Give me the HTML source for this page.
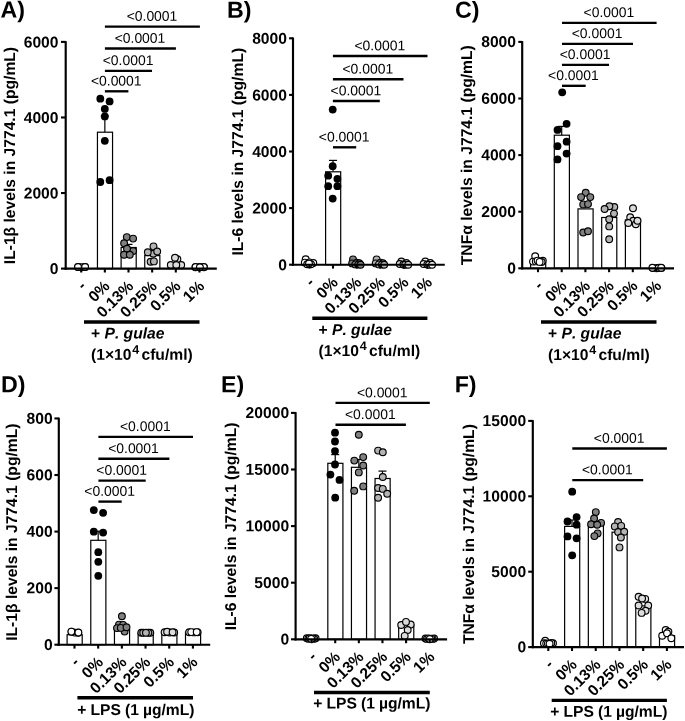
<!DOCTYPE html>
<html>
<head>
<meta charset="utf-8">
<title>Figure</title>
<style>
html,body{margin:0;padding:0;background:#fff;}
body{width:685px;height:721px;overflow:hidden;}
svg{display:block;font-family:"Liberation Sans",sans-serif;fill:#000;text-rendering:geometricPrecision;will-change:transform;font-kerning:none;}
</style>
</head>
<body>
<svg width="685" height="721" viewBox="0 0 685 721">
<rect x="0" y="0" width="685" height="721" fill="#fff"/>
<g>
<line x1="104.85" y1="116" x2="104.85" y2="132.2" stroke="#000" stroke-width="1.2" stroke-linecap="butt"/>
<line x1="100.85" y1="116" x2="108.85" y2="116" stroke="#000" stroke-width="1.2" stroke-linecap="butt"/>
<rect x="97.45" y="132.2" width="15.1" height="136.4" fill="#fff" stroke="#000" stroke-width="1.2"/>
<line x1="128.5" y1="244.4" x2="128.5" y2="247.5" stroke="#000" stroke-width="1.2" stroke-linecap="butt"/>
<line x1="124.5" y1="244.4" x2="132.5" y2="244.4" stroke="#000" stroke-width="1.2" stroke-linecap="butt"/>
<rect x="121.1" y="247.5" width="15.1" height="21.1" fill="#fff" stroke="#000" stroke-width="1.2"/>
<rect x="144.75" y="255.6" width="15.1" height="13" fill="#fff" stroke="#000" stroke-width="1.2"/>
<rect x="168.4" y="262.8" width="15.1" height="5.8" fill="#fff" stroke="#000" stroke-width="1.2"/>
<circle cx="78.1" cy="266.9" r="3.38" fill="#fff" stroke="#000" stroke-width="1.15"/>
<circle cx="85" cy="266.9" r="3.38" fill="#fff" stroke="#000" stroke-width="1.15"/>
<circle cx="78.3" cy="267.1" r="3.38" fill="#fff" stroke="#000" stroke-width="1.15"/>
<circle cx="84.8" cy="267.1" r="3.38" fill="#fff" stroke="#000" stroke-width="1.15"/>
<circle cx="81.6" cy="267.2" r="3.38" fill="#fff" stroke="#000" stroke-width="1.15"/>
<circle cx="78" cy="267" r="3.38" fill="#fff" stroke="#000" stroke-width="1.15"/>
<circle cx="85.1" cy="267" r="3.38" fill="#fff" stroke="#000" stroke-width="1.15"/>
<circle cx="100.3" cy="98.7" r="3.9" fill="#000"/>
<circle cx="109.6" cy="101.4" r="3.9" fill="#000"/>
<circle cx="104.8" cy="108.9" r="3.9" fill="#000"/>
<circle cx="104.8" cy="116.4" r="3.9" fill="#000"/>
<circle cx="104.8" cy="140.8" r="3.9" fill="#000"/>
<circle cx="100.3" cy="182" r="3.9" fill="#000"/>
<circle cx="109.6" cy="180.2" r="3.9" fill="#000"/>
<circle cx="126.8" cy="237.1" r="3.38" fill="#808080" stroke="#000" stroke-width="1.15"/>
<circle cx="133.1" cy="238.6" r="3.38" fill="#808080" stroke="#000" stroke-width="1.15"/>
<circle cx="124.1" cy="243.3" r="3.38" fill="#808080" stroke="#000" stroke-width="1.15"/>
<circle cx="133.1" cy="251" r="3.38" fill="#808080" stroke="#000" stroke-width="1.15"/>
<circle cx="127" cy="248.8" r="3.38" fill="#808080" stroke="#000" stroke-width="1.15"/>
<circle cx="124.1" cy="254.8" r="3.38" fill="#808080" stroke="#000" stroke-width="1.15"/>
<circle cx="129.8" cy="254.8" r="3.38" fill="#808080" stroke="#000" stroke-width="1.15"/>
<circle cx="153.3" cy="253.7" r="3.38" fill="#b3b3b3" stroke="#000" stroke-width="1.15"/>
<circle cx="153.5" cy="246.4" r="3.38" fill="#b3b3b3" stroke="#000" stroke-width="1.15"/>
<circle cx="147.8" cy="252.3" r="3.38" fill="#b3b3b3" stroke="#000" stroke-width="1.15"/>
<circle cx="157.2" cy="251.5" r="3.38" fill="#b3b3b3" stroke="#000" stroke-width="1.15"/>
<circle cx="150.6" cy="261.7" r="3.38" fill="#b3b3b3" stroke="#000" stroke-width="1.15"/>
<circle cx="153.9" cy="261.4" r="3.38" fill="#b3b3b3" stroke="#000" stroke-width="1.15"/>
<circle cx="177.4" cy="259.2" r="3.38" fill="#dcdcdc" stroke="#000" stroke-width="1.15"/>
<circle cx="175" cy="257.8" r="3.38" fill="#dcdcdc" stroke="#000" stroke-width="1.15"/>
<circle cx="170.8" cy="265" r="3.38" fill="#dcdcdc" stroke="#000" stroke-width="1.15"/>
<circle cx="181.2" cy="265" r="3.38" fill="#dcdcdc" stroke="#000" stroke-width="1.15"/>
<circle cx="176.3" cy="265" r="3.38" fill="#dcdcdc" stroke="#000" stroke-width="1.15"/>
<circle cx="195.4" cy="267.2" r="3.38" fill="#fff" stroke="#000" stroke-width="1.15"/>
<circle cx="204" cy="267.2" r="3.38" fill="#fff" stroke="#000" stroke-width="1.15"/>
<circle cx="199.7" cy="267" r="3.38" fill="#fff" stroke="#000" stroke-width="1.15"/>
<circle cx="195.6" cy="267" r="3.38" fill="#fff" stroke="#000" stroke-width="1.15"/>
<circle cx="203.8" cy="267" r="3.38" fill="#fff" stroke="#000" stroke-width="1.15"/>
<circle cx="199.9" cy="267.3" r="3.38" fill="#fff" stroke="#000" stroke-width="1.15"/>
<line x1="65.7" y1="41.12" x2="65.7" y2="269.68" stroke="#000" stroke-width="2.15" stroke-linecap="butt"/>
<line x1="64.62" y1="268.6" x2="216.8" y2="268.6" stroke="#000" stroke-width="2.15" stroke-linecap="butt"/>
<line x1="61" y1="268.6" x2="65.7" y2="268.6" stroke="#000" stroke-width="2.1" stroke-linecap="butt"/>
<text x="58.5" y="274.14" text-anchor="end" style="font-size:15.65px;font-weight:bold;" transform="rotate(0.03 58.5 274.14)">0</text>
<line x1="61" y1="193.03" x2="65.7" y2="193.03" stroke="#000" stroke-width="2.1" stroke-linecap="butt"/>
<text x="58.5" y="198.58" text-anchor="end" style="font-size:15.65px;font-weight:bold;" transform="rotate(0.03 58.5 198.58)">2000</text>
<line x1="61" y1="117.47" x2="65.7" y2="117.47" stroke="#000" stroke-width="2.1" stroke-linecap="butt"/>
<text x="58.5" y="123.01" text-anchor="end" style="font-size:15.65px;font-weight:bold;" transform="rotate(0.03 58.5 123.01)">4000</text>
<line x1="61" y1="41.9" x2="65.7" y2="41.9" stroke="#000" stroke-width="2.1" stroke-linecap="butt"/>
<text x="58.5" y="47.44" text-anchor="end" style="font-size:15.65px;font-weight:bold;" transform="rotate(0.03 58.5 47.44)">6000</text>
<line x1="81.2" y1="268.6" x2="81.2" y2="272.5" stroke="#000" stroke-width="2.1" stroke-linecap="butt"/>
<line x1="104.85" y1="268.6" x2="104.85" y2="272.5" stroke="#000" stroke-width="2.1" stroke-linecap="butt"/>
<line x1="128.5" y1="268.6" x2="128.5" y2="272.5" stroke="#000" stroke-width="2.1" stroke-linecap="butt"/>
<line x1="152.15" y1="268.6" x2="152.15" y2="272.5" stroke="#000" stroke-width="2.1" stroke-linecap="butt"/>
<line x1="175.8" y1="268.6" x2="175.8" y2="272.5" stroke="#000" stroke-width="2.1" stroke-linecap="butt"/>
<line x1="199.45" y1="268.6" x2="199.45" y2="272.5" stroke="#000" stroke-width="2.1" stroke-linecap="butt"/>
<text x="87" y="287.1" text-anchor="end" style="font-size:15.65px;font-weight:bold;" transform="rotate(-45 87 287.1)">-</text>
<text x="110.65" y="287.1" text-anchor="end" style="font-size:15.65px;font-weight:bold;" transform="rotate(-45 110.65 287.1)">0%</text>
<text x="134.3" y="287.1" text-anchor="end" style="font-size:15.65px;font-weight:bold;" transform="rotate(-45 134.3 287.1)">0.13%</text>
<text x="157.95" y="287.1" text-anchor="end" style="font-size:15.65px;font-weight:bold;" transform="rotate(-45 157.95 287.1)">0.25%</text>
<text x="181.6" y="287.1" text-anchor="end" style="font-size:15.65px;font-weight:bold;" transform="rotate(-45 181.6 287.1)">0.5%</text>
<text x="205.25" y="287.1" text-anchor="end" style="font-size:15.65px;font-weight:bold;" transform="rotate(-45 205.25 287.1)">1%</text>
<line x1="104.9" y1="91.3" x2="128.4" y2="91.3" stroke="#000" stroke-width="2.35" stroke-linecap="butt"/>
<text x="116.25" y="85.55" text-anchor="middle" style="font-size:13.93px;" transform="rotate(0.03 116.25 85.55)">&lt;0.0001</text>
<line x1="104.9" y1="70.8" x2="152" y2="70.8" stroke="#000" stroke-width="2.35" stroke-linecap="butt"/>
<text x="128.05" y="65.05" text-anchor="middle" style="font-size:13.93px;" transform="rotate(0.03 128.05 65.05)">&lt;0.0001</text>
<line x1="104.9" y1="48.45" x2="175.9" y2="48.45" stroke="#000" stroke-width="2.35" stroke-linecap="butt"/>
<text x="140" y="42.7" text-anchor="middle" style="font-size:13.93px;" transform="rotate(0.03 140 42.7)">&lt;0.0001</text>
<line x1="104.9" y1="26.55" x2="199.9" y2="26.55" stroke="#000" stroke-width="2.35" stroke-linecap="butt"/>
<text x="152" y="20.8" text-anchor="middle" style="font-size:13.93px;" transform="rotate(0.03 152 20.8)">&lt;0.0001</text>
<line x1="84" y1="322" x2="199.5" y2="322" stroke="#000" stroke-width="3.4" stroke-linecap="butt"/>
<text x="91" y="338.4" transform="rotate(0.03 91 338.4)" style="font-size:15.65px;font-weight:bold">+ <tspan style="font-style:italic">P. gulae</tspan></text>
<text x="91" y="359.7" transform="rotate(0.03 91 359.7)" style="font-size:15.65px;font-weight:bold">(1×10<tspan dy="-6" dx="0.7" style="font-size:12.5px">4</tspan><tspan dy="6" dx="-2.0"> cfu/ml)</tspan></text>
<text x="14.9" y="264.2" text-anchor="start" style="font-size:15.65px;font-weight:bold;" transform="rotate(-90 14.9 264.2)">IL-1β levels in J774.1 (pg/mL)</text>
<text x="0.5" y="17.6" text-anchor="start" style="font-size:23.2px;font-weight:bold;" transform="rotate(0.03 0.5 17.6)">A)</text>
</g>
<g>
<line x1="333" y1="160.4" x2="333" y2="171.8" stroke="#000" stroke-width="1.2" stroke-linecap="butt"/>
<line x1="329" y1="160.4" x2="337" y2="160.4" stroke="#000" stroke-width="1.2" stroke-linecap="butt"/>
<rect x="325.6" y="171.8" width="15.1" height="92.9" fill="#fff" stroke="#000" stroke-width="1.2"/>
<circle cx="305.7" cy="259.3" r="3.38" fill="#fff" stroke="#000" stroke-width="1.15"/>
<circle cx="304.8" cy="262.6" r="3.38" fill="#fff" stroke="#000" stroke-width="1.15"/>
<circle cx="309.5" cy="262.4" r="3.38" fill="#fff" stroke="#000" stroke-width="1.15"/>
<circle cx="313.3" cy="263" r="3.38" fill="#fff" stroke="#000" stroke-width="1.15"/>
<circle cx="311" cy="264.2" r="3.38" fill="#fff" stroke="#000" stroke-width="1.15"/>
<circle cx="307.2" cy="264.3" r="3.38" fill="#fff" stroke="#000" stroke-width="1.15"/>
<circle cx="309" cy="263.6" r="3.38" fill="#fff" stroke="#000" stroke-width="1.15"/>
<circle cx="332.7" cy="109.6" r="3.9" fill="#000"/>
<circle cx="332.7" cy="166.2" r="3.9" fill="#000"/>
<circle cx="328.2" cy="175.7" r="3.9" fill="#000"/>
<circle cx="337.4" cy="178.8" r="3.9" fill="#000"/>
<circle cx="328.2" cy="186.2" r="3.9" fill="#000"/>
<circle cx="337.4" cy="186.2" r="3.9" fill="#000"/>
<circle cx="332.7" cy="198.6" r="3.9" fill="#000"/>
<circle cx="353" cy="259.4" r="3.38" fill="#808080" stroke="#000" stroke-width="1.15"/>
<circle cx="352.1" cy="263.4" r="3.38" fill="#808080" stroke="#000" stroke-width="1.15"/>
<circle cx="356.9" cy="262.6" r="3.38" fill="#808080" stroke="#000" stroke-width="1.15"/>
<circle cx="359.3" cy="263.2" r="3.38" fill="#808080" stroke="#000" stroke-width="1.15"/>
<circle cx="355.3" cy="264.4" r="3.38" fill="#808080" stroke="#000" stroke-width="1.15"/>
<circle cx="358.3" cy="264.6" r="3.38" fill="#808080" stroke="#000" stroke-width="1.15"/>
<circle cx="360.6" cy="264.7" r="3.38" fill="#808080" stroke="#000" stroke-width="1.15"/>
<circle cx="376.6" cy="259.4" r="3.38" fill="#b3b3b3" stroke="#000" stroke-width="1.15"/>
<circle cx="375.7" cy="263.4" r="3.38" fill="#b3b3b3" stroke="#000" stroke-width="1.15"/>
<circle cx="380.5" cy="262.6" r="3.38" fill="#b3b3b3" stroke="#000" stroke-width="1.15"/>
<circle cx="382.9" cy="263.2" r="3.38" fill="#b3b3b3" stroke="#000" stroke-width="1.15"/>
<circle cx="378.9" cy="264.4" r="3.38" fill="#b3b3b3" stroke="#000" stroke-width="1.15"/>
<circle cx="381.9" cy="264.6" r="3.38" fill="#b3b3b3" stroke="#000" stroke-width="1.15"/>
<circle cx="384.2" cy="264.7" r="3.38" fill="#b3b3b3" stroke="#000" stroke-width="1.15"/>
<circle cx="401.4" cy="261.5" r="3.38" fill="#dcdcdc" stroke="#000" stroke-width="1.15"/>
<circle cx="399.7" cy="264" r="3.38" fill="#dcdcdc" stroke="#000" stroke-width="1.15"/>
<circle cx="406.4" cy="263" r="3.38" fill="#dcdcdc" stroke="#000" stroke-width="1.15"/>
<circle cx="403.4" cy="264.5" r="3.38" fill="#dcdcdc" stroke="#000" stroke-width="1.15"/>
<circle cx="405.1" cy="264.8" r="3.38" fill="#dcdcdc" stroke="#000" stroke-width="1.15"/>
<circle cx="408.2" cy="264.7" r="3.38" fill="#dcdcdc" stroke="#000" stroke-width="1.15"/>
<circle cx="425.3" cy="261.5" r="3.38" fill="#fff" stroke="#000" stroke-width="1.15"/>
<circle cx="423.6" cy="264" r="3.38" fill="#fff" stroke="#000" stroke-width="1.15"/>
<circle cx="430.3" cy="263" r="3.38" fill="#fff" stroke="#000" stroke-width="1.15"/>
<circle cx="427.3" cy="264.5" r="3.38" fill="#fff" stroke="#000" stroke-width="1.15"/>
<circle cx="429" cy="264.8" r="3.38" fill="#fff" stroke="#000" stroke-width="1.15"/>
<circle cx="432.1" cy="264.7" r="3.38" fill="#fff" stroke="#000" stroke-width="1.15"/>
<line x1="293" y1="37.52" x2="293" y2="265.77" stroke="#000" stroke-width="2.15" stroke-linecap="butt"/>
<line x1="291.93" y1="264.7" x2="444.8" y2="264.7" stroke="#000" stroke-width="2.15" stroke-linecap="butt"/>
<line x1="289.1" y1="264.7" x2="293" y2="264.7" stroke="#000" stroke-width="2.1" stroke-linecap="butt"/>
<text x="286.95" y="270.24" text-anchor="end" style="font-size:15.65px;font-weight:bold;" transform="rotate(0.03 286.95 270.24)">0</text>
<line x1="289.1" y1="208.1" x2="293" y2="208.1" stroke="#000" stroke-width="2.1" stroke-linecap="butt"/>
<text x="286.95" y="213.64" text-anchor="end" style="font-size:15.65px;font-weight:bold;" transform="rotate(0.03 286.95 213.64)">2000</text>
<line x1="289.1" y1="151.5" x2="293" y2="151.5" stroke="#000" stroke-width="2.1" stroke-linecap="butt"/>
<text x="286.95" y="157.04" text-anchor="end" style="font-size:15.65px;font-weight:bold;" transform="rotate(0.03 286.95 157.04)">4000</text>
<line x1="289.1" y1="94.9" x2="293" y2="94.9" stroke="#000" stroke-width="2.1" stroke-linecap="butt"/>
<text x="286.95" y="100.44" text-anchor="end" style="font-size:15.65px;font-weight:bold;" transform="rotate(0.03 286.95 100.44)">6000</text>
<line x1="289.1" y1="38.3" x2="293" y2="38.3" stroke="#000" stroke-width="2.1" stroke-linecap="butt"/>
<text x="286.95" y="43.84" text-anchor="end" style="font-size:15.65px;font-weight:bold;" transform="rotate(0.03 286.95 43.84)">8000</text>
<line x1="309.4" y1="264.7" x2="309.4" y2="268.6" stroke="#000" stroke-width="2.1" stroke-linecap="butt"/>
<line x1="333" y1="264.7" x2="333" y2="268.6" stroke="#000" stroke-width="2.1" stroke-linecap="butt"/>
<line x1="356.6" y1="264.7" x2="356.6" y2="268.6" stroke="#000" stroke-width="2.1" stroke-linecap="butt"/>
<line x1="380.2" y1="264.7" x2="380.2" y2="268.6" stroke="#000" stroke-width="2.1" stroke-linecap="butt"/>
<line x1="403.8" y1="264.7" x2="403.8" y2="268.6" stroke="#000" stroke-width="2.1" stroke-linecap="butt"/>
<line x1="427.4" y1="264.7" x2="427.4" y2="268.6" stroke="#000" stroke-width="2.1" stroke-linecap="butt"/>
<text x="315.2" y="283.5" text-anchor="end" style="font-size:15.65px;font-weight:bold;" transform="rotate(-45 315.2 283.5)">-</text>
<text x="338.8" y="283.5" text-anchor="end" style="font-size:15.65px;font-weight:bold;" transform="rotate(-45 338.8 283.5)">0%</text>
<text x="362.4" y="283.5" text-anchor="end" style="font-size:15.65px;font-weight:bold;" transform="rotate(-45 362.4 283.5)">0.13%</text>
<text x="386" y="283.5" text-anchor="end" style="font-size:15.65px;font-weight:bold;" transform="rotate(-45 386 283.5)">0.25%</text>
<text x="409.6" y="283.5" text-anchor="end" style="font-size:15.65px;font-weight:bold;" transform="rotate(-45 409.6 283.5)">0.5%</text>
<text x="433.2" y="283.5" text-anchor="end" style="font-size:15.65px;font-weight:bold;" transform="rotate(-45 433.2 283.5)">1%</text>
<line x1="333" y1="147.3" x2="356.2" y2="147.3" stroke="#000" stroke-width="2.35" stroke-linecap="butt"/>
<text x="344.2" y="141.55" text-anchor="middle" style="font-size:13.93px;" transform="rotate(0.03 344.2 141.55)">&lt;0.0001</text>
<line x1="332.9" y1="101" x2="379.8" y2="101" stroke="#000" stroke-width="2.35" stroke-linecap="butt"/>
<text x="355.95" y="95.25" text-anchor="middle" style="font-size:13.93px;" transform="rotate(0.03 355.95 95.25)">&lt;0.0001</text>
<line x1="332.9" y1="79.2" x2="403.5" y2="79.2" stroke="#000" stroke-width="2.35" stroke-linecap="butt"/>
<text x="367.8" y="73.45" text-anchor="middle" style="font-size:13.93px;" transform="rotate(0.03 367.8 73.45)">&lt;0.0001</text>
<line x1="332.9" y1="56" x2="427.5" y2="56" stroke="#000" stroke-width="2.35" stroke-linecap="butt"/>
<text x="379.8" y="50.25" text-anchor="middle" style="font-size:13.93px;" transform="rotate(0.03 379.8 50.25)">&lt;0.0001</text>
<line x1="312.3" y1="318.3" x2="427.4" y2="318.3" stroke="#000" stroke-width="3.4" stroke-linecap="butt"/>
<text x="318.5" y="334.9" transform="rotate(0.03 318.5 334.9)" style="font-size:15.65px;font-weight:bold">+ <tspan style="font-style:italic">P. gulae</tspan></text>
<text x="318.5" y="355.9" transform="rotate(0.03 318.5 355.9)" style="font-size:15.65px;font-weight:bold">(1×10<tspan dy="-6" dx="0.7" style="font-size:12.5px">4</tspan><tspan dy="6" dx="-2.0"> cfu/ml)</tspan></text>
<text x="242.8" y="255.6" text-anchor="start" style="font-size:15.65px;font-weight:bold;" transform="rotate(-90 242.8 255.6)">IL-6 levels in J774.1 (pg/mL)</text>
<text x="227.1" y="17.7" text-anchor="start" style="font-size:23.2px;font-weight:bold;" transform="rotate(0.03 227.1 17.7)">B)</text>
</g>
<g>
<rect x="530.6" y="263.4" width="15.1" height="4.9" fill="#fff" stroke="#000" stroke-width="1.2"/>
<line x1="561.7" y1="126.4" x2="561.7" y2="135.2" stroke="#000" stroke-width="1.2" stroke-linecap="butt"/>
<line x1="557.7" y1="126.4" x2="565.7" y2="126.4" stroke="#000" stroke-width="1.2" stroke-linecap="butt"/>
<rect x="554.3" y="135.2" width="15.1" height="133.1" fill="#fff" stroke="#000" stroke-width="1.2"/>
<rect x="578" y="208.9" width="15.1" height="59.4" fill="#fff" stroke="#000" stroke-width="1.2"/>
<rect x="601.7" y="217.5" width="15.1" height="50.8" fill="#fff" stroke="#000" stroke-width="1.2"/>
<rect x="625.4" y="219.9" width="15.1" height="48.4" fill="#fff" stroke="#000" stroke-width="1.2"/>
<circle cx="542.8" cy="260.8" r="3.38" fill="#fff" stroke="#000" stroke-width="1.15"/>
<circle cx="535.2" cy="256.2" r="3.38" fill="#fff" stroke="#000" stroke-width="1.15"/>
<circle cx="533" cy="261.6" r="3.38" fill="#fff" stroke="#000" stroke-width="1.15"/>
<circle cx="535.8" cy="261.4" r="3.38" fill="#fff" stroke="#000" stroke-width="1.15"/>
<circle cx="537.6" cy="260.6" r="3.38" fill="#fff" stroke="#000" stroke-width="1.15"/>
<circle cx="541.6" cy="262" r="3.38" fill="#fff" stroke="#000" stroke-width="1.15"/>
<circle cx="539.6" cy="261.9" r="3.38" fill="#fff" stroke="#000" stroke-width="1.15"/>
<circle cx="562.2" cy="92.3" r="3.9" fill="#000"/>
<circle cx="566.6" cy="123.8" r="3.9" fill="#000"/>
<circle cx="557.5" cy="129.9" r="3.9" fill="#000"/>
<circle cx="566.6" cy="141.7" r="3.9" fill="#000"/>
<circle cx="557.5" cy="146.2" r="3.9" fill="#000"/>
<circle cx="566.6" cy="153.6" r="3.9" fill="#000"/>
<circle cx="557.5" cy="159.4" r="3.9" fill="#000"/>
<circle cx="585.7" cy="192.7" r="3.38" fill="#808080" stroke="#000" stroke-width="1.15"/>
<circle cx="581.1" cy="197.1" r="3.38" fill="#808080" stroke="#000" stroke-width="1.15"/>
<circle cx="590.3" cy="197.1" r="3.38" fill="#808080" stroke="#000" stroke-width="1.15"/>
<circle cx="583.2" cy="204.4" r="3.38" fill="#808080" stroke="#000" stroke-width="1.15"/>
<circle cx="588" cy="204.1" r="3.38" fill="#808080" stroke="#000" stroke-width="1.15"/>
<circle cx="583.2" cy="232.5" r="3.38" fill="#808080" stroke="#000" stroke-width="1.15"/>
<circle cx="588" cy="231.2" r="3.38" fill="#808080" stroke="#000" stroke-width="1.15"/>
<circle cx="614.3" cy="207" r="3.38" fill="#b3b3b3" stroke="#000" stroke-width="1.15"/>
<circle cx="609.4" cy="206.3" r="3.38" fill="#b3b3b3" stroke="#000" stroke-width="1.15"/>
<circle cx="604.6" cy="209" r="3.38" fill="#b3b3b3" stroke="#000" stroke-width="1.15"/>
<circle cx="614" cy="213.6" r="3.38" fill="#b3b3b3" stroke="#000" stroke-width="1.15"/>
<circle cx="609.2" cy="219.2" r="3.38" fill="#b3b3b3" stroke="#000" stroke-width="1.15"/>
<circle cx="609.2" cy="226.4" r="3.38" fill="#b3b3b3" stroke="#000" stroke-width="1.15"/>
<circle cx="609.2" cy="239.2" r="3.38" fill="#b3b3b3" stroke="#000" stroke-width="1.15"/>
<circle cx="633" cy="208.3" r="3.38" fill="#dcdcdc" stroke="#000" stroke-width="1.15"/>
<circle cx="630.2" cy="217.2" r="3.38" fill="#dcdcdc" stroke="#000" stroke-width="1.15"/>
<circle cx="633.2" cy="220.8" r="3.38" fill="#dcdcdc" stroke="#000" stroke-width="1.15"/>
<circle cx="635.8" cy="224.3" r="3.38" fill="#dcdcdc" stroke="#000" stroke-width="1.15"/>
<circle cx="637.5" cy="220.8" r="3.38" fill="#dcdcdc" stroke="#000" stroke-width="1.15"/>
<circle cx="628.3" cy="223" r="3.38" fill="#dcdcdc" stroke="#000" stroke-width="1.15"/>
<circle cx="656.5" cy="267.9" r="3.38" fill="#fff" stroke="#000" stroke-width="1.15"/>
<circle cx="652.9" cy="268.1" r="3.38" fill="#fff" stroke="#000" stroke-width="1.15"/>
<circle cx="659.2" cy="267.7" r="3.38" fill="#fff" stroke="#000" stroke-width="1.15"/>
<circle cx="661.5" cy="268.1" r="3.38" fill="#fff" stroke="#000" stroke-width="1.15"/>
<circle cx="652.4" cy="267.7" r="3.38" fill="#fff" stroke="#000" stroke-width="1.15"/>
<circle cx="658.6" cy="268.1" r="3.38" fill="#fff" stroke="#000" stroke-width="1.15"/>
<circle cx="661.2" cy="267.8" r="3.38" fill="#fff" stroke="#000" stroke-width="1.15"/>
<line x1="522.2" y1="41.12" x2="522.2" y2="269.38" stroke="#000" stroke-width="2.15" stroke-linecap="butt"/>
<line x1="521.12" y1="268.3" x2="674" y2="268.3" stroke="#000" stroke-width="2.15" stroke-linecap="butt"/>
<line x1="518.3" y1="268.3" x2="522.2" y2="268.3" stroke="#000" stroke-width="2.1" stroke-linecap="butt"/>
<text x="516" y="273.54" text-anchor="end" style="font-size:15.65px;font-weight:bold;" transform="rotate(0.03 516 273.54)">0</text>
<line x1="518.3" y1="211.7" x2="522.2" y2="211.7" stroke="#000" stroke-width="2.1" stroke-linecap="butt"/>
<text x="516" y="216.94" text-anchor="end" style="font-size:15.65px;font-weight:bold;" transform="rotate(0.03 516 216.94)">2000</text>
<line x1="518.3" y1="155.1" x2="522.2" y2="155.1" stroke="#000" stroke-width="2.1" stroke-linecap="butt"/>
<text x="516" y="160.34" text-anchor="end" style="font-size:15.65px;font-weight:bold;" transform="rotate(0.03 516 160.34)">4000</text>
<line x1="518.3" y1="98.5" x2="522.2" y2="98.5" stroke="#000" stroke-width="2.1" stroke-linecap="butt"/>
<text x="516" y="103.74" text-anchor="end" style="font-size:15.65px;font-weight:bold;" transform="rotate(0.03 516 103.74)">6000</text>
<line x1="518.3" y1="41.9" x2="522.2" y2="41.9" stroke="#000" stroke-width="2.1" stroke-linecap="butt"/>
<text x="516" y="47.14" text-anchor="end" style="font-size:15.65px;font-weight:bold;" transform="rotate(0.03 516 47.14)">8000</text>
<line x1="538" y1="268.3" x2="538" y2="272.2" stroke="#000" stroke-width="2.1" stroke-linecap="butt"/>
<line x1="561.7" y1="268.3" x2="561.7" y2="272.2" stroke="#000" stroke-width="2.1" stroke-linecap="butt"/>
<line x1="585.4" y1="268.3" x2="585.4" y2="272.2" stroke="#000" stroke-width="2.1" stroke-linecap="butt"/>
<line x1="609.1" y1="268.3" x2="609.1" y2="272.2" stroke="#000" stroke-width="2.1" stroke-linecap="butt"/>
<line x1="632.8" y1="268.3" x2="632.8" y2="272.2" stroke="#000" stroke-width="2.1" stroke-linecap="butt"/>
<line x1="656.5" y1="268.3" x2="656.5" y2="272.2" stroke="#000" stroke-width="2.1" stroke-linecap="butt"/>
<text x="543.8" y="286.8" text-anchor="end" style="font-size:15.65px;font-weight:bold;" transform="rotate(-45 543.8 286.8)">-</text>
<text x="567.5" y="286.8" text-anchor="end" style="font-size:15.65px;font-weight:bold;" transform="rotate(-45 567.5 286.8)">0%</text>
<text x="591.2" y="286.8" text-anchor="end" style="font-size:15.65px;font-weight:bold;" transform="rotate(-45 591.2 286.8)">0.13%</text>
<text x="614.9" y="286.8" text-anchor="end" style="font-size:15.65px;font-weight:bold;" transform="rotate(-45 614.9 286.8)">0.25%</text>
<text x="638.6" y="286.8" text-anchor="end" style="font-size:15.65px;font-weight:bold;" transform="rotate(-45 638.6 286.8)">0.5%</text>
<text x="662.3" y="286.8" text-anchor="end" style="font-size:15.65px;font-weight:bold;" transform="rotate(-45 662.3 286.8)">1%</text>
<line x1="562" y1="85.8" x2="585.7" y2="85.8" stroke="#000" stroke-width="2.35" stroke-linecap="butt"/>
<text x="573.45" y="80.05" text-anchor="middle" style="font-size:13.93px;" transform="rotate(0.03 573.45 80.05)">&lt;0.0001</text>
<line x1="562" y1="64.8" x2="609" y2="64.8" stroke="#000" stroke-width="2.35" stroke-linecap="butt"/>
<text x="585.1" y="59.05" text-anchor="middle" style="font-size:13.93px;" transform="rotate(0.03 585.1 59.05)">&lt;0.0001</text>
<line x1="562" y1="43.8" x2="633" y2="43.8" stroke="#000" stroke-width="2.35" stroke-linecap="butt"/>
<text x="597.1" y="38.05" text-anchor="middle" style="font-size:13.93px;" transform="rotate(0.03 597.1 38.05)">&lt;0.0001</text>
<line x1="562" y1="22.8" x2="656.6" y2="22.8" stroke="#000" stroke-width="2.35" stroke-linecap="butt"/>
<text x="608.9" y="17.05" text-anchor="middle" style="font-size:13.93px;" transform="rotate(0.03 608.9 17.05)">&lt;0.0001</text>
<line x1="541" y1="322" x2="656.5" y2="322" stroke="#000" stroke-width="3.4" stroke-linecap="butt"/>
<text x="548" y="338.4" transform="rotate(0.03 548 338.4)" style="font-size:15.65px;font-weight:bold">+ <tspan style="font-style:italic">P. gulae</tspan></text>
<text x="548" y="359.9" transform="rotate(0.03 548 359.9)" style="font-size:15.65px;font-weight:bold">(1×10<tspan dy="-6" dx="0.7" style="font-size:12.5px">4</tspan><tspan dy="6" dx="-2.0"> cfu/ml)</tspan></text>
<text x="472.1" y="265.2" text-anchor="start" style="font-size:15.65px;font-weight:bold;" transform="rotate(-90 472.1 265.2)">TNFα levels in J774.1 (pg/mL)</text>
<text x="455.1" y="17.8" text-anchor="start" style="font-size:23.2px;font-weight:bold;" transform="rotate(0.03 455.1 17.8)">C)</text>
</g>
<g>
<rect x="67.1" y="634.7" width="15.1" height="10" fill="#fff" stroke="#000" stroke-width="1.2"/>
<line x1="98.18" y1="531.2" x2="98.18" y2="540.3" stroke="#000" stroke-width="1.2" stroke-linecap="butt"/>
<line x1="94.18" y1="531.2" x2="102.18" y2="531.2" stroke="#000" stroke-width="1.2" stroke-linecap="butt"/>
<rect x="90.78" y="540.3" width="15.1" height="104.4" fill="#fff" stroke="#000" stroke-width="1.2"/>
<rect x="114.46" y="629.4" width="15.1" height="15.3" fill="#fff" stroke="#000" stroke-width="1.2"/>
<rect x="138.14" y="633" width="15.1" height="11.7" fill="#fff" stroke="#000" stroke-width="1.2"/>
<rect x="161.82" y="632" width="15.1" height="12.7" fill="#fff" stroke="#000" stroke-width="1.2"/>
<rect x="185.5" y="632" width="15.1" height="12.7" fill="#fff" stroke="#000" stroke-width="1.2"/>
<circle cx="75" cy="632.6" r="3.38" fill="#fff" stroke="#000" stroke-width="1.15"/>
<circle cx="71.6" cy="631.8" r="3.38" fill="#fff" stroke="#000" stroke-width="1.15"/>
<circle cx="78.2" cy="632.7" r="3.38" fill="#fff" stroke="#000" stroke-width="1.15"/>
<circle cx="71.4" cy="631.6" r="3.38" fill="#fff" stroke="#000" stroke-width="1.15"/>
<circle cx="78.4" cy="632.5" r="3.38" fill="#fff" stroke="#000" stroke-width="1.15"/>
<circle cx="93.8" cy="510.1" r="3.9" fill="#000"/>
<circle cx="103.1" cy="512.8" r="3.9" fill="#000"/>
<circle cx="93.8" cy="531.7" r="3.9" fill="#000"/>
<circle cx="103.1" cy="532.6" r="3.9" fill="#000"/>
<circle cx="98.3" cy="552.2" r="3.9" fill="#000"/>
<circle cx="98.3" cy="561.8" r="3.9" fill="#000"/>
<circle cx="98.3" cy="575.8" r="3.9" fill="#000"/>
<circle cx="121.9" cy="616.2" r="3.38" fill="#808080" stroke="#000" stroke-width="1.15"/>
<circle cx="119" cy="624.6" r="3.38" fill="#808080" stroke="#000" stroke-width="1.15"/>
<circle cx="123.1" cy="624.9" r="3.38" fill="#808080" stroke="#000" stroke-width="1.15"/>
<circle cx="124.6" cy="631.6" r="3.38" fill="#808080" stroke="#000" stroke-width="1.15"/>
<circle cx="117" cy="628.1" r="3.38" fill="#808080" stroke="#000" stroke-width="1.15"/>
<circle cx="120.8" cy="627.9" r="3.38" fill="#808080" stroke="#000" stroke-width="1.15"/>
<circle cx="126.5" cy="627.3" r="3.38" fill="#808080" stroke="#000" stroke-width="1.15"/>
<circle cx="141.3" cy="632.8" r="3.38" fill="#b3b3b3" stroke="#000" stroke-width="1.15"/>
<circle cx="150.3" cy="632.8" r="3.38" fill="#b3b3b3" stroke="#000" stroke-width="1.15"/>
<circle cx="143.2" cy="632.8" r="3.38" fill="#b3b3b3" stroke="#000" stroke-width="1.15"/>
<circle cx="148.4" cy="632.8" r="3.38" fill="#b3b3b3" stroke="#000" stroke-width="1.15"/>
<circle cx="145.9" cy="632.7" r="3.38" fill="#b3b3b3" stroke="#000" stroke-width="1.15"/>
<circle cx="164.6" cy="632.3" r="3.38" fill="#dcdcdc" stroke="#000" stroke-width="1.15"/>
<circle cx="174.2" cy="632.5" r="3.38" fill="#dcdcdc" stroke="#000" stroke-width="1.15"/>
<circle cx="169.6" cy="632.5" r="3.38" fill="#dcdcdc" stroke="#000" stroke-width="1.15"/>
<circle cx="167.1" cy="631.7" r="3.38" fill="#dcdcdc" stroke="#000" stroke-width="1.15"/>
<circle cx="172.6" cy="632.2" r="3.38" fill="#dcdcdc" stroke="#000" stroke-width="1.15"/>
<circle cx="193.8" cy="632.4" r="3.38" fill="#fff" stroke="#000" stroke-width="1.15"/>
<circle cx="189.2" cy="632.3" r="3.38" fill="#fff" stroke="#000" stroke-width="1.15"/>
<circle cx="197.6" cy="632.3" r="3.38" fill="#fff" stroke="#000" stroke-width="1.15"/>
<circle cx="191.2" cy="632.1" r="3.38" fill="#fff" stroke="#000" stroke-width="1.15"/>
<circle cx="196.7" cy="632.1" r="3.38" fill="#fff" stroke="#000" stroke-width="1.15"/>
<line x1="58.8" y1="417.68" x2="58.8" y2="645.78" stroke="#000" stroke-width="2.15" stroke-linecap="butt"/>
<line x1="57.72" y1="644.7" x2="210.2" y2="644.7" stroke="#000" stroke-width="2.15" stroke-linecap="butt"/>
<line x1="54.4" y1="644.7" x2="58.8" y2="644.7" stroke="#000" stroke-width="2.1" stroke-linecap="butt"/>
<text x="52.65" y="649.94" text-anchor="end" style="font-size:15.65px;font-weight:bold;" transform="rotate(0.03 52.65 649.94)">0</text>
<line x1="54.4" y1="588.14" x2="58.8" y2="588.14" stroke="#000" stroke-width="2.1" stroke-linecap="butt"/>
<text x="52.65" y="593.38" text-anchor="end" style="font-size:15.65px;font-weight:bold;" transform="rotate(0.03 52.65 593.38)">200</text>
<line x1="54.4" y1="531.58" x2="58.8" y2="531.58" stroke="#000" stroke-width="2.1" stroke-linecap="butt"/>
<text x="52.65" y="536.82" text-anchor="end" style="font-size:15.65px;font-weight:bold;" transform="rotate(0.03 52.65 536.82)">400</text>
<line x1="54.4" y1="475.01" x2="58.8" y2="475.01" stroke="#000" stroke-width="2.1" stroke-linecap="butt"/>
<text x="52.65" y="480.26" text-anchor="end" style="font-size:15.65px;font-weight:bold;" transform="rotate(0.03 52.65 480.26)">600</text>
<line x1="54.4" y1="418.45" x2="58.8" y2="418.45" stroke="#000" stroke-width="2.1" stroke-linecap="butt"/>
<text x="52.65" y="423.69" text-anchor="end" style="font-size:15.65px;font-weight:bold;" transform="rotate(0.03 52.65 423.69)">800</text>
<line x1="74.5" y1="644.7" x2="74.5" y2="648.6" stroke="#000" stroke-width="2.1" stroke-linecap="butt"/>
<line x1="98.18" y1="644.7" x2="98.18" y2="648.6" stroke="#000" stroke-width="2.1" stroke-linecap="butt"/>
<line x1="121.86" y1="644.7" x2="121.86" y2="648.6" stroke="#000" stroke-width="2.1" stroke-linecap="butt"/>
<line x1="145.54" y1="644.7" x2="145.54" y2="648.6" stroke="#000" stroke-width="2.1" stroke-linecap="butt"/>
<line x1="169.22" y1="644.7" x2="169.22" y2="648.6" stroke="#000" stroke-width="2.1" stroke-linecap="butt"/>
<line x1="192.9" y1="644.7" x2="192.9" y2="648.6" stroke="#000" stroke-width="2.1" stroke-linecap="butt"/>
<text x="80.3" y="663.2" text-anchor="end" style="font-size:15.65px;font-weight:bold;" transform="rotate(-45 80.3 663.2)">-</text>
<text x="103.98" y="663.2" text-anchor="end" style="font-size:15.65px;font-weight:bold;" transform="rotate(-45 103.98 663.2)">0%</text>
<text x="127.66" y="663.2" text-anchor="end" style="font-size:15.65px;font-weight:bold;" transform="rotate(-45 127.66 663.2)">0.13%</text>
<text x="151.34" y="663.2" text-anchor="end" style="font-size:15.65px;font-weight:bold;" transform="rotate(-45 151.34 663.2)">0.25%</text>
<text x="175.02" y="663.2" text-anchor="end" style="font-size:15.65px;font-weight:bold;" transform="rotate(-45 175.02 663.2)">0.5%</text>
<text x="198.7" y="663.2" text-anchor="end" style="font-size:15.65px;font-weight:bold;" transform="rotate(-45 198.7 663.2)">1%</text>
<line x1="98.4" y1="501.6" x2="121.7" y2="501.6" stroke="#000" stroke-width="2.35" stroke-linecap="butt"/>
<text x="109.65" y="495.85" text-anchor="middle" style="font-size:13.93px;" transform="rotate(0.03 109.65 495.85)">&lt;0.0001</text>
<line x1="98.4" y1="480.6" x2="145.7" y2="480.6" stroke="#000" stroke-width="2.35" stroke-linecap="butt"/>
<text x="121.65" y="474.85" text-anchor="middle" style="font-size:13.93px;" transform="rotate(0.03 121.65 474.85)">&lt;0.0001</text>
<line x1="98.4" y1="458.7" x2="169.4" y2="458.7" stroke="#000" stroke-width="2.35" stroke-linecap="butt"/>
<text x="133.5" y="452.95" text-anchor="middle" style="font-size:13.93px;" transform="rotate(0.03 133.5 452.95)">&lt;0.0001</text>
<line x1="98.4" y1="436.8" x2="193" y2="436.8" stroke="#000" stroke-width="2.35" stroke-linecap="butt"/>
<text x="145.3" y="431.05" text-anchor="middle" style="font-size:13.93px;" transform="rotate(0.03 145.3 431.05)">&lt;0.0001</text>
<line x1="77.4" y1="697.8" x2="193" y2="697.8" stroke="#000" stroke-width="3.4" stroke-linecap="butt"/>
<text x="77.3" y="714.9" transform="rotate(0.03 77.3 714.9)" style="font-size:15.65px;font-weight:bold"><tspan style="word-spacing:-0.3px">+ LPS (1 µg/mL)</tspan></text>
<text x="17" y="640.8" text-anchor="start" style="font-size:15.65px;font-weight:bold;" transform="rotate(-90 17 640.8)">IL-1β levels in J774.1 (pg/mL)</text>
<text x="1.1" y="392.3" text-anchor="start" style="font-size:23.2px;font-weight:bold;" transform="rotate(0.03 1.1 392.3)">D)</text>
</g>
<g>
<line x1="335.22" y1="454.6" x2="335.22" y2="463.3" stroke="#000" stroke-width="1.2" stroke-linecap="butt"/>
<line x1="331.22" y1="454.6" x2="339.22" y2="454.6" stroke="#000" stroke-width="1.2" stroke-linecap="butt"/>
<rect x="327.82" y="463.3" width="15.1" height="176" fill="#fff" stroke="#000" stroke-width="1.2"/>
<line x1="358.84" y1="459.5" x2="358.84" y2="467.3" stroke="#000" stroke-width="1.2" stroke-linecap="butt"/>
<line x1="354.84" y1="459.5" x2="362.84" y2="459.5" stroke="#000" stroke-width="1.2" stroke-linecap="butt"/>
<rect x="351.44" y="467.3" width="15.1" height="172" fill="#fff" stroke="#000" stroke-width="1.2"/>
<line x1="382.46" y1="471.1" x2="382.46" y2="478.5" stroke="#000" stroke-width="1.2" stroke-linecap="butt"/>
<line x1="378.46" y1="471.1" x2="386.46" y2="471.1" stroke="#000" stroke-width="1.2" stroke-linecap="butt"/>
<rect x="375.06" y="478.5" width="15.1" height="160.8" fill="#fff" stroke="#000" stroke-width="1.2"/>
<rect x="398.68" y="625" width="15.1" height="14.3" fill="#fff" stroke="#000" stroke-width="1.2"/>
<circle cx="306.8" cy="638.3" r="3.38" fill="#fff" stroke="#000" stroke-width="1.15"/>
<circle cx="315.6" cy="638.3" r="3.38" fill="#fff" stroke="#000" stroke-width="1.15"/>
<circle cx="308.3" cy="638.7" r="3.38" fill="#fff" stroke="#000" stroke-width="1.15"/>
<circle cx="314.2" cy="638.7" r="3.38" fill="#fff" stroke="#000" stroke-width="1.15"/>
<circle cx="309.7" cy="638.2" r="3.38" fill="#fff" stroke="#000" stroke-width="1.15"/>
<circle cx="312.7" cy="638.4" r="3.38" fill="#fff" stroke="#000" stroke-width="1.15"/>
<circle cx="311.2" cy="638.8" r="3.38" fill="#fff" stroke="#000" stroke-width="1.15"/>
<circle cx="335" cy="432.7" r="3.9" fill="#000"/>
<circle cx="335" cy="441.5" r="3.9" fill="#000"/>
<circle cx="335" cy="451.1" r="3.9" fill="#000"/>
<circle cx="335" cy="464.5" r="3.9" fill="#000"/>
<circle cx="330.4" cy="474.6" r="3.9" fill="#000"/>
<circle cx="339.5" cy="479.9" r="3.9" fill="#000"/>
<circle cx="335.2" cy="497.7" r="3.9" fill="#000"/>
<circle cx="358.8" cy="434.8" r="3.38" fill="#808080" stroke="#000" stroke-width="1.15"/>
<circle cx="363.2" cy="457.1" r="3.38" fill="#808080" stroke="#000" stroke-width="1.15"/>
<circle cx="354.3" cy="460.6" r="3.38" fill="#808080" stroke="#000" stroke-width="1.15"/>
<circle cx="363.2" cy="465.5" r="3.38" fill="#808080" stroke="#000" stroke-width="1.15"/>
<circle cx="358.8" cy="472.4" r="3.38" fill="#808080" stroke="#000" stroke-width="1.15"/>
<circle cx="363.2" cy="486.4" r="3.38" fill="#808080" stroke="#000" stroke-width="1.15"/>
<circle cx="354.2" cy="490.8" r="3.38" fill="#808080" stroke="#000" stroke-width="1.15"/>
<circle cx="378.1" cy="450.6" r="3.38" fill="#b3b3b3" stroke="#000" stroke-width="1.15"/>
<circle cx="382.8" cy="452.3" r="3.38" fill="#b3b3b3" stroke="#000" stroke-width="1.15"/>
<circle cx="382.8" cy="477" r="3.38" fill="#b3b3b3" stroke="#000" stroke-width="1.15"/>
<circle cx="378.1" cy="488" r="3.38" fill="#b3b3b3" stroke="#000" stroke-width="1.15"/>
<circle cx="382.8" cy="488.9" r="3.38" fill="#b3b3b3" stroke="#000" stroke-width="1.15"/>
<circle cx="387.2" cy="493.8" r="3.38" fill="#b3b3b3" stroke="#000" stroke-width="1.15"/>
<circle cx="378.1" cy="497.7" r="3.38" fill="#b3b3b3" stroke="#000" stroke-width="1.15"/>
<circle cx="401.2" cy="625" r="3.38" fill="#dcdcdc" stroke="#000" stroke-width="1.15"/>
<circle cx="410.7" cy="624.5" r="3.38" fill="#dcdcdc" stroke="#000" stroke-width="1.15"/>
<circle cx="406" cy="621.9" r="3.38" fill="#dcdcdc" stroke="#000" stroke-width="1.15"/>
<circle cx="407.7" cy="630" r="3.38" fill="#dcdcdc" stroke="#000" stroke-width="1.15"/>
<circle cx="404.7" cy="635.9" r="3.38" fill="#dcdcdc" stroke="#000" stroke-width="1.15"/>
<circle cx="425.5" cy="638.5" r="3.38" fill="#fff" stroke="#000" stroke-width="1.15"/>
<circle cx="434.1" cy="638.5" r="3.38" fill="#fff" stroke="#000" stroke-width="1.15"/>
<circle cx="426.9" cy="638.9" r="3.38" fill="#fff" stroke="#000" stroke-width="1.15"/>
<circle cx="432.6" cy="638.9" r="3.38" fill="#fff" stroke="#000" stroke-width="1.15"/>
<circle cx="428.4" cy="638.4" r="3.38" fill="#fff" stroke="#000" stroke-width="1.15"/>
<circle cx="431.2" cy="638.6" r="3.38" fill="#fff" stroke="#000" stroke-width="1.15"/>
<circle cx="429.8" cy="639" r="3.38" fill="#fff" stroke="#000" stroke-width="1.15"/>
<line x1="295.6" y1="412.12" x2="295.6" y2="640.38" stroke="#000" stroke-width="2.15" stroke-linecap="butt"/>
<line x1="294.53" y1="639.3" x2="447.1" y2="639.3" stroke="#000" stroke-width="2.15" stroke-linecap="butt"/>
<line x1="291" y1="639.3" x2="295.6" y2="639.3" stroke="#000" stroke-width="2.1" stroke-linecap="butt"/>
<text x="289.1" y="644.54" text-anchor="end" style="font-size:15.65px;font-weight:bold;" transform="rotate(0.03 289.1 644.54)">0</text>
<line x1="291" y1="582.7" x2="295.6" y2="582.7" stroke="#000" stroke-width="2.1" stroke-linecap="butt"/>
<text x="289.1" y="587.94" text-anchor="end" style="font-size:15.65px;font-weight:bold;" transform="rotate(0.03 289.1 587.94)">5000</text>
<line x1="291" y1="526.1" x2="295.6" y2="526.1" stroke="#000" stroke-width="2.1" stroke-linecap="butt"/>
<text x="289.1" y="531.34" text-anchor="end" style="font-size:15.65px;font-weight:bold;" transform="rotate(0.03 289.1 531.34)">10000</text>
<line x1="291" y1="469.5" x2="295.6" y2="469.5" stroke="#000" stroke-width="2.1" stroke-linecap="butt"/>
<text x="289.1" y="474.74" text-anchor="end" style="font-size:15.65px;font-weight:bold;" transform="rotate(0.03 289.1 474.74)">15000</text>
<line x1="291" y1="412.9" x2="295.6" y2="412.9" stroke="#000" stroke-width="2.1" stroke-linecap="butt"/>
<text x="289.1" y="418.14" text-anchor="end" style="font-size:15.65px;font-weight:bold;" transform="rotate(0.03 289.1 418.14)">20000</text>
<line x1="311.6" y1="639.3" x2="311.6" y2="643.2" stroke="#000" stroke-width="2.1" stroke-linecap="butt"/>
<line x1="335.22" y1="639.3" x2="335.22" y2="643.2" stroke="#000" stroke-width="2.1" stroke-linecap="butt"/>
<line x1="358.84" y1="639.3" x2="358.84" y2="643.2" stroke="#000" stroke-width="2.1" stroke-linecap="butt"/>
<line x1="382.46" y1="639.3" x2="382.46" y2="643.2" stroke="#000" stroke-width="2.1" stroke-linecap="butt"/>
<line x1="406.08" y1="639.3" x2="406.08" y2="643.2" stroke="#000" stroke-width="2.1" stroke-linecap="butt"/>
<line x1="429.7" y1="639.3" x2="429.7" y2="643.2" stroke="#000" stroke-width="2.1" stroke-linecap="butt"/>
<text x="317.4" y="657.8" text-anchor="end" style="font-size:15.65px;font-weight:bold;" transform="rotate(-45 317.4 657.8)">-</text>
<text x="341.02" y="657.8" text-anchor="end" style="font-size:15.65px;font-weight:bold;" transform="rotate(-45 341.02 657.8)">0%</text>
<text x="364.64" y="657.8" text-anchor="end" style="font-size:15.65px;font-weight:bold;" transform="rotate(-45 364.64 657.8)">0.13%</text>
<text x="388.26" y="657.8" text-anchor="end" style="font-size:15.65px;font-weight:bold;" transform="rotate(-45 388.26 657.8)">0.25%</text>
<text x="411.88" y="657.8" text-anchor="end" style="font-size:15.65px;font-weight:bold;" transform="rotate(-45 411.88 657.8)">0.5%</text>
<text x="435.5" y="657.8" text-anchor="end" style="font-size:15.65px;font-weight:bold;" transform="rotate(-45 435.5 657.8)">1%</text>
<line x1="335.5" y1="424.7" x2="405.9" y2="424.7" stroke="#000" stroke-width="2.35" stroke-linecap="butt"/>
<text x="370.3" y="418.95" text-anchor="middle" style="font-size:13.93px;" transform="rotate(0.03 370.3 418.95)">&lt;0.0001</text>
<line x1="335.5" y1="402.9" x2="429.8" y2="402.9" stroke="#000" stroke-width="2.35" stroke-linecap="butt"/>
<text x="382.25" y="397.15" text-anchor="middle" style="font-size:13.93px;" transform="rotate(0.03 382.25 397.15)">&lt;0.0001</text>
<line x1="314" y1="692.45" x2="429.8" y2="692.45" stroke="#000" stroke-width="3.4" stroke-linecap="butt"/>
<text x="313.3" y="708.4" transform="rotate(0.03 313.3 708.4)" style="font-size:15.65px;font-weight:bold"><tspan style="word-spacing:-0.3px">+ LPS (1 µg/mL)</tspan></text>
<text x="236.4" y="630.3" text-anchor="start" style="font-size:15.65px;font-weight:bold;" transform="rotate(-90 236.4 630.3)">IL-6 levels in J774.1 (pg/mL)</text>
<text x="221.1" y="392.3" text-anchor="start" style="font-size:23.2px;font-weight:bold;" transform="rotate(0.03 221.1 392.3)">E)</text>
</g>
<g>
<line x1="572.02" y1="520" x2="572.02" y2="526.4" stroke="#000" stroke-width="1.2" stroke-linecap="butt"/>
<line x1="568.02" y1="520" x2="576.02" y2="520" stroke="#000" stroke-width="1.2" stroke-linecap="butt"/>
<rect x="564.62" y="526.4" width="15.1" height="120.7" fill="#fff" stroke="#000" stroke-width="1.2"/>
<rect x="588.34" y="524.7" width="15.1" height="122.4" fill="#fff" stroke="#000" stroke-width="1.2"/>
<rect x="612.06" y="532.2" width="15.1" height="114.9" fill="#fff" stroke="#000" stroke-width="1.2"/>
<rect x="635.78" y="605.9" width="15.1" height="41.2" fill="#fff" stroke="#000" stroke-width="1.2"/>
<rect x="659.5" y="635.7" width="15.1" height="11.4" fill="#fff" stroke="#000" stroke-width="1.2"/>
<circle cx="553" cy="643.2" r="3.38" fill="#fff" stroke="#000" stroke-width="1.15"/>
<circle cx="551.3" cy="643" r="3.38" fill="#fff" stroke="#000" stroke-width="1.15"/>
<circle cx="545.2" cy="640.8" r="3.38" fill="#fff" stroke="#000" stroke-width="1.15"/>
<circle cx="543.9" cy="643.3" r="3.38" fill="#fff" stroke="#000" stroke-width="1.15"/>
<circle cx="546.2" cy="643.5" r="3.38" fill="#fff" stroke="#000" stroke-width="1.15"/>
<circle cx="547.9" cy="643.6" r="3.38" fill="#fff" stroke="#000" stroke-width="1.15"/>
<circle cx="549.6" cy="643.7" r="3.38" fill="#fff" stroke="#000" stroke-width="1.15"/>
<circle cx="572.2" cy="491.7" r="3.9" fill="#000"/>
<circle cx="576.6" cy="517.1" r="3.9" fill="#000"/>
<circle cx="567.5" cy="521.5" r="3.9" fill="#000"/>
<circle cx="576.6" cy="524.7" r="3.9" fill="#000"/>
<circle cx="567.5" cy="536.4" r="3.9" fill="#000"/>
<circle cx="576.6" cy="538.3" r="3.9" fill="#000"/>
<circle cx="572.2" cy="555.3" r="3.9" fill="#000"/>
<circle cx="595.8" cy="512.1" r="3.38" fill="#808080" stroke="#000" stroke-width="1.15"/>
<circle cx="594.1" cy="518.5" r="3.38" fill="#808080" stroke="#000" stroke-width="1.15"/>
<circle cx="591.1" cy="524.3" r="3.38" fill="#808080" stroke="#000" stroke-width="1.15"/>
<circle cx="601.1" cy="522.9" r="3.38" fill="#808080" stroke="#000" stroke-width="1.15"/>
<circle cx="597.2" cy="524.7" r="3.38" fill="#808080" stroke="#000" stroke-width="1.15"/>
<circle cx="597.6" cy="533.4" r="3.38" fill="#808080" stroke="#000" stroke-width="1.15"/>
<circle cx="594.4" cy="536.1" r="3.38" fill="#808080" stroke="#000" stroke-width="1.15"/>
<circle cx="618.1" cy="522" r="3.38" fill="#b3b3b3" stroke="#000" stroke-width="1.15"/>
<circle cx="614.8" cy="526.4" r="3.38" fill="#b3b3b3" stroke="#000" stroke-width="1.15"/>
<circle cx="621.2" cy="525.9" r="3.38" fill="#b3b3b3" stroke="#000" stroke-width="1.15"/>
<circle cx="618.1" cy="532" r="3.38" fill="#b3b3b3" stroke="#000" stroke-width="1.15"/>
<circle cx="624.2" cy="531.7" r="3.38" fill="#b3b3b3" stroke="#000" stroke-width="1.15"/>
<circle cx="620.9" cy="537.5" r="3.38" fill="#b3b3b3" stroke="#000" stroke-width="1.15"/>
<circle cx="619.5" cy="547.4" r="3.38" fill="#b3b3b3" stroke="#000" stroke-width="1.15"/>
<circle cx="638.6" cy="596.8" r="3.38" fill="#dcdcdc" stroke="#000" stroke-width="1.15"/>
<circle cx="645.2" cy="598.9" r="3.38" fill="#dcdcdc" stroke="#000" stroke-width="1.15"/>
<circle cx="642.1" cy="598.5" r="3.38" fill="#dcdcdc" stroke="#000" stroke-width="1.15"/>
<circle cx="638.6" cy="605.5" r="3.38" fill="#dcdcdc" stroke="#000" stroke-width="1.15"/>
<circle cx="648.2" cy="605.5" r="3.38" fill="#dcdcdc" stroke="#000" stroke-width="1.15"/>
<circle cx="645.6" cy="610.8" r="3.38" fill="#dcdcdc" stroke="#000" stroke-width="1.15"/>
<circle cx="641.6" cy="612.9" r="3.38" fill="#dcdcdc" stroke="#000" stroke-width="1.15"/>
<circle cx="665.7" cy="630" r="3.38" fill="#fff" stroke="#000" stroke-width="1.15"/>
<circle cx="668.4" cy="631.8" r="3.38" fill="#fff" stroke="#000" stroke-width="1.15"/>
<circle cx="662.2" cy="635.7" r="3.38" fill="#fff" stroke="#000" stroke-width="1.15"/>
<circle cx="667" cy="633.2" r="3.38" fill="#fff" stroke="#000" stroke-width="1.15"/>
<circle cx="671.3" cy="638.3" r="3.38" fill="#fff" stroke="#000" stroke-width="1.15"/>
<line x1="532.8" y1="420.12" x2="532.8" y2="648.18" stroke="#000" stroke-width="2.15" stroke-linecap="butt"/>
<line x1="531.72" y1="647.1" x2="684" y2="647.1" stroke="#000" stroke-width="2.15" stroke-linecap="butt"/>
<line x1="528.2" y1="647.1" x2="532.8" y2="647.1" stroke="#000" stroke-width="2.1" stroke-linecap="butt"/>
<text x="526.1" y="652.34" text-anchor="end" style="font-size:15.65px;font-weight:bold;" transform="rotate(0.03 526.1 652.34)">0</text>
<line x1="528.2" y1="571.7" x2="532.8" y2="571.7" stroke="#000" stroke-width="2.1" stroke-linecap="butt"/>
<text x="526.1" y="576.94" text-anchor="end" style="font-size:15.65px;font-weight:bold;" transform="rotate(0.03 526.1 576.94)">5000</text>
<line x1="528.2" y1="496.3" x2="532.8" y2="496.3" stroke="#000" stroke-width="2.1" stroke-linecap="butt"/>
<text x="526.1" y="501.54" text-anchor="end" style="font-size:15.65px;font-weight:bold;" transform="rotate(0.03 526.1 501.54)">10000</text>
<line x1="528.2" y1="420.9" x2="532.8" y2="420.9" stroke="#000" stroke-width="2.1" stroke-linecap="butt"/>
<text x="526.1" y="426.14" text-anchor="end" style="font-size:15.65px;font-weight:bold;" transform="rotate(0.03 526.1 426.14)">15000</text>
<line x1="548.3" y1="647.1" x2="548.3" y2="651" stroke="#000" stroke-width="2.1" stroke-linecap="butt"/>
<line x1="572.02" y1="647.1" x2="572.02" y2="651" stroke="#000" stroke-width="2.1" stroke-linecap="butt"/>
<line x1="595.74" y1="647.1" x2="595.74" y2="651" stroke="#000" stroke-width="2.1" stroke-linecap="butt"/>
<line x1="619.46" y1="647.1" x2="619.46" y2="651" stroke="#000" stroke-width="2.1" stroke-linecap="butt"/>
<line x1="643.18" y1="647.1" x2="643.18" y2="651" stroke="#000" stroke-width="2.1" stroke-linecap="butt"/>
<line x1="666.9" y1="647.1" x2="666.9" y2="651" stroke="#000" stroke-width="2.1" stroke-linecap="butt"/>
<text x="554.1" y="665.6" text-anchor="end" style="font-size:15.65px;font-weight:bold;" transform="rotate(-45 554.1 665.6)">-</text>
<text x="577.82" y="665.6" text-anchor="end" style="font-size:15.65px;font-weight:bold;" transform="rotate(-45 577.82 665.6)">0%</text>
<text x="601.54" y="665.6" text-anchor="end" style="font-size:15.65px;font-weight:bold;" transform="rotate(-45 601.54 665.6)">0.13%</text>
<text x="625.26" y="665.6" text-anchor="end" style="font-size:15.65px;font-weight:bold;" transform="rotate(-45 625.26 665.6)">0.25%</text>
<text x="648.98" y="665.6" text-anchor="end" style="font-size:15.65px;font-weight:bold;" transform="rotate(-45 648.98 665.6)">0.5%</text>
<text x="672.7" y="665.6" text-anchor="end" style="font-size:15.65px;font-weight:bold;" transform="rotate(-45 672.7 665.6)">1%</text>
<line x1="572.3" y1="480.1" x2="643.2" y2="480.1" stroke="#000" stroke-width="2.35" stroke-linecap="butt"/>
<text x="607.35" y="474.35" text-anchor="middle" style="font-size:13.93px;" transform="rotate(0.03 607.35 474.35)">&lt;0.0001</text>
<line x1="572.3" y1="448.5" x2="666.9" y2="448.5" stroke="#000" stroke-width="2.35" stroke-linecap="butt"/>
<text x="619.2" y="442.75" text-anchor="middle" style="font-size:13.93px;" transform="rotate(0.03 619.2 442.75)">&lt;0.0001</text>
<line x1="551.7" y1="700.4" x2="666.9" y2="700.4" stroke="#000" stroke-width="3.4" stroke-linecap="butt"/>
<text x="550.3" y="716.7" transform="rotate(0.03 550.3 716.7)" style="font-size:15.65px;font-weight:bold"><tspan style="word-spacing:-0.3px">+ LPS (1 µg/mL)</tspan></text>
<text x="474" y="644.1" text-anchor="start" style="font-size:15.65px;font-weight:bold;" transform="rotate(-90 474 644.1)">TNFα levels in J774.1 (pg/mL)</text>
<text x="454.7" y="392.3" text-anchor="start" style="font-size:23.2px;font-weight:bold;" transform="rotate(0.03 454.7 392.3)">F)</text>
</g>
</svg>
</body>
</html>
